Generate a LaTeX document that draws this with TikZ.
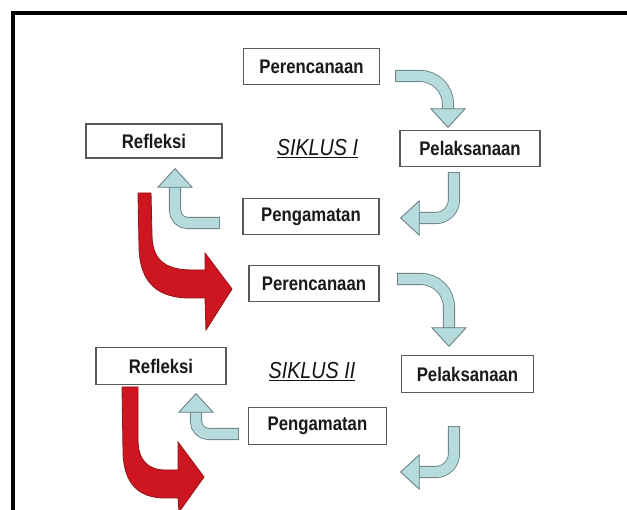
\documentclass[tikz,border=0pt]{standalone}
\usepackage{fontspec}
\newfontfamily\boxfont{Liberation Sans}[FakeStretch=0.85]
\usetikzlibrary{arrows.meta}
\definecolor{cycfill}{RGB}{182,219,221}
\definecolor{cycedge}{RGB}{105,125,128}
\definecolor{redfill}{RGB}{205,22,32}
\definecolor{rededge}{RGB}{150,20,25}

\begin{document}
\begin{tikzpicture}[x=0.025cm, y=0.025cm,
  box/.style={draw=black!65, line width=0.8pt, fill=white, minimum width=3.4cm,
              minimum height=0.92cm, inner sep=0pt, text=black!90,
              font=\boxfont\bfseries\fontsize{14}{16}\selectfont},
  lbl/.style={text=black!92, font=\boxfont\itshape\fontsize{16.5}{18}\selectfont},
  cyc/.style={draw=cycfill, line width=7.4pt,
              -{Triangle[length=14pt, width=25.6pt, fill=cycfill, color=cycedge, line width=0.6pt]},
              preaction={draw=cycedge, line width=8.6pt, -, shorten >=13.5pt, shorten <=-0.6pt}},
  turn/.style={fill=redfill, draw=rededge, line width=0.6pt}
]
  \fill[white] (0,0) rectangle (627,-510);
  \useasboundingbox (0,0) rectangle (627,-510);
  \draw[line width=2.2pt] (13,-510) -- (13,-13) -- (627,-13);

  % siklus I
  \node[box]                        (per1) at (311.5,-66.5) {Perencanaan};
  \node[box, minimum height=0.85cm] (ref1) at (154,-141)    {Refleksi};
  \node[box, minimum width=3.5cm]   (pel1) at (470,-148.5)  {Pelaksanaan};
  \node[box]                        (pen1) at (311,-216.5)  {Pengamatan};
  \node[lbl]                        (sik1) at (317.5,-149)  {\underline{SIKLUS I}};

  % siklus II
  \node[box, minimum width=3.25cm]  (per2) at (314,-283.5)  {Perencanaan};
  \node[box, minimum width=3.25cm]  (ref2) at (161,-366)    {Refleksi};
  \node[box, minimum width=3.28cm]  (pel2) at (467.5,-374)  {Pelaksanaan};
  \node[box, minimum width=3.45cm]  (pen2) at (317.5,-426)  {Pengamatan};
  \node[lbl]                        (sik2) at (312,-372)    {\underline{SIKLUS II}};

  \coordinate (a1) at (396,-76);   \coordinate (b1) at (448,-128);
  \coordinate (c1) at (454,-173);  \coordinate (d1) at (400,-218);
  \coordinate (e1) at (219,-223);  \coordinate (f1) at (175,-168);
  \coordinate (a2) at (398,-279);  \coordinate (b2) at (449,-347);
  \coordinate (c2) at (454,-427);  \coordinate (d2) at (400,-472);
  \coordinate (e2) at (238,-434);  \coordinate (f2) at (196,-393);

  \draw[cyc, rounded corners=20pt] (a1) -| (b1);
  \draw[cyc, rounded corners=13pt] (c1) |- (d1);
  \draw[cyc, rounded corners=9pt]  (e1) -| (f1);
  \draw[cyc, rounded corners=20pt] (a2) -| (b2);
  \draw[cyc, rounded corners=13pt] (c2) |- (d2);
  \draw[cyc, rounded corners=9pt]  (e2) -| (f2);

  % refleksi -> perencanaan
  \draw[turn] (138,-193) -- (139,-245) .. controls (139,-285) and (160,-298) .. (190,-298)
    -- (205,-298) -- (206,-330) -- (232,-289) -- (205,-253) -- (205,-270) -- (192,-270)
    .. controls (168,-270) and (152,-262) .. (152,-235) -- (151,-193) -- cycle;
  \draw[turn] (122,-387) -- (123,-450) .. controls (123,-485) and (140,-498) .. (165,-498)
    -- (178,-498) -- (179,-512) -- (204,-477) -- (178,-442) -- (178,-470) -- (165,-470)
    .. controls (148,-470) and (138,-460) .. (138,-440) -- (138,-387) -- cycle;
\end{tikzpicture}
\end{document}
